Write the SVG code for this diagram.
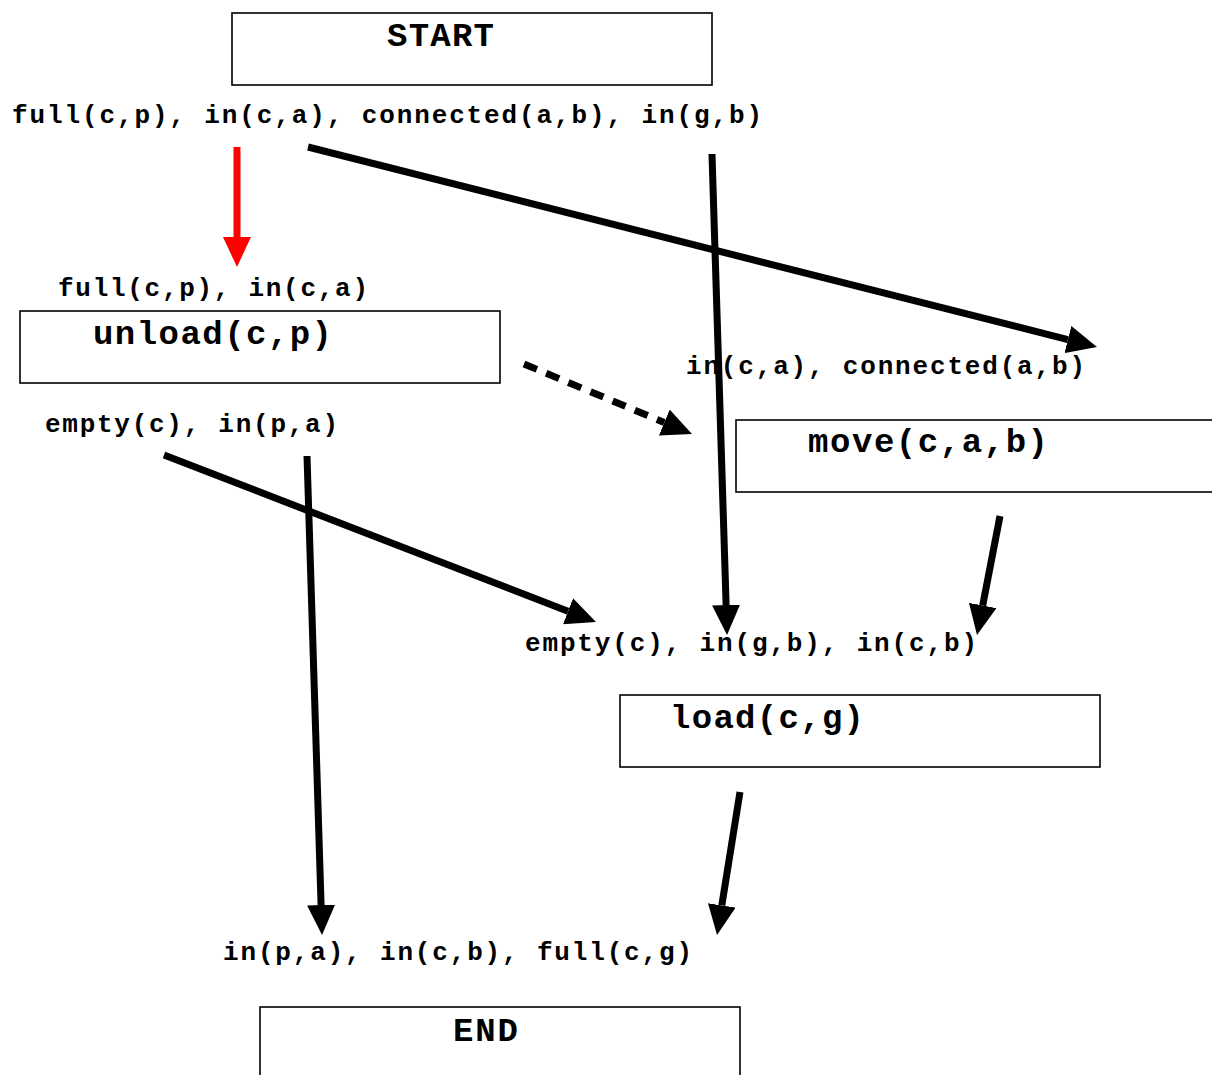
<svg xmlns="http://www.w3.org/2000/svg" width="1212" height="1075" viewBox="0 0 1212 1075">
<style>
.box{fill:#fff;stroke:#000;stroke-width:1.6}
.t{font-family:"Liberation Mono","Courier New",monospace;font-weight:bold;fill:#000}
.s{font-size:26px}
.b{font-size:34px}
.c{stroke:#000;stroke-width:7;fill:none}
</style>
<defs>
<marker id="ah" markerUnits="userSpaceOnUse" markerWidth="30" markerHeight="28" viewBox="0 0 30 28" refX="0" refY="14" orient="auto"><path d="M0,0 L30,14 L0,28 z" fill="#000"/></marker>
<marker id="ahr" markerUnits="userSpaceOnUse" markerWidth="30" markerHeight="28" viewBox="0 0 30 28" refX="0" refY="14" orient="auto"><path d="M0,0 L30,14 L0,28 z" fill="#f00"/></marker>
</defs>
<rect width="1212" height="1075" fill="#fff"/>
<g id="start"><rect class="box" x="232" y="13" width="480" height="72"/><text class="t b" x="387" y="46" textLength="107" lengthAdjust="spacing">START</text></g>
<g id="init-state"><text class="t s" x="12" y="123" textLength="750" lengthAdjust="spacing">full(c,p), in(c,a), connected(a,b), in(g,b)</text></g>
<g id="unload-pre"><text class="t s" x="58" y="296" textLength="310" lengthAdjust="spacing">full(c,p), in(c,a)</text></g>
<g id="unload"><rect class="box" x="20" y="311" width="480" height="72"/><text class="t b" x="93" y="344" textLength="239" lengthAdjust="spacing">unload(c,p)</text></g>
<g id="unload-post"><text class="t s" x="45" y="432" textLength="293" lengthAdjust="spacing">empty(c), in(p,a)</text></g>
<g id="move-pre"><text class="t s" x="686" y="374" textLength="399" lengthAdjust="spacing">in(c,a), connected(a,b)</text></g>
<g id="move"><rect class="box" x="736" y="420" width="490" height="72"/><text class="t b" x="808" y="452" textLength="240" lengthAdjust="spacing">move(c,a,b)</text></g>
<g id="load-pre"><text class="t s" x="525" y="651" textLength="452" lengthAdjust="spacing">empty(c), in(g,b), in(c,b)</text></g>
<g id="load"><rect class="box" x="620" y="695" width="480" height="72"/><text class="t b" x="670" y="728" textLength="194" lengthAdjust="spacing">load(c,g)</text></g>
<g id="goal-state"><text class="t s" x="223" y="960" textLength="469" lengthAdjust="spacing">in(p,a), in(c,b), full(c,g)</text></g>
<g id="end"><rect class="box" x="260" y="1007" width="480" height="80"/><text class="t b" x="453" y="1041" textLength="65" lengthAdjust="spacing">END</text></g>
<g id="connectors">
<line x1="237" y1="147" x2="237" y2="237" stroke="#f00" stroke-width="7" marker-end="url(#ahr)"/>
<line class="c" x1="308" y1="147" x2="1067.9" y2="339.6" marker-end="url(#ah)"/>
<line class="c" x1="712" y1="154" x2="726.1" y2="605" marker-end="url(#ah)"/>
<line class="c" x1="524" y1="364" x2="664.3" y2="422.5" stroke-dasharray="14 10" marker-end="url(#ah)"/>
<line class="c" x1="1000" y1="516" x2="982.7" y2="605.5" marker-end="url(#ah)"/>
<line class="c" x1="164" y1="455" x2="568" y2="611.2" marker-end="url(#ah)"/>
<line class="c" x1="307" y1="456" x2="321.1" y2="905" marker-end="url(#ah)"/>
<line class="c" x1="740" y1="792" x2="721.8" y2="905.4" marker-end="url(#ah)"/>
</g>
</svg>
